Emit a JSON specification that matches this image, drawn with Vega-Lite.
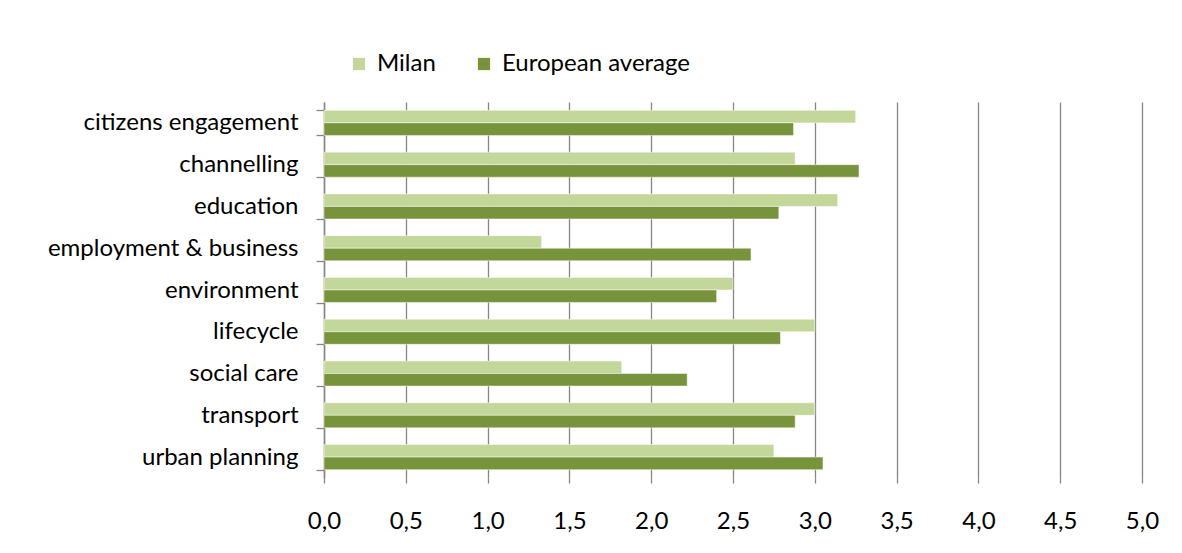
{
  "$schema": "https://vega.github.io/schema/vega-lite/v6.json",
  "width": 818,
  "height": 376,
  "autosize": {"type": "none"},
  "padding": {"left": 324, "top": 102, "right": 40, "bottom": 75},
  "background": "white",
  "data": {
    "values": [
      {"category": "citizens engagement", "series": "Milan", "value": 3.25},
      {"category": "citizens engagement", "series": "European average", "value": 2.87},
      {"category": "channelling", "series": "Milan", "value": 2.88},
      {"category": "channelling", "series": "European average", "value": 3.27},
      {"category": "education", "series": "Milan", "value": 3.14},
      {"category": "education", "series": "European average", "value": 2.78},
      {"category": "employment & business", "series": "Milan", "value": 1.33},
      {"category": "employment & business", "series": "European average", "value": 2.61},
      {"category": "environment", "series": "Milan", "value": 2.5},
      {"category": "environment", "series": "European average", "value": 2.4},
      {"category": "lifecycle", "series": "Milan", "value": 3.0},
      {"category": "lifecycle", "series": "European average", "value": 2.79},
      {"category": "social care", "series": "Milan", "value": 1.82},
      {"category": "social care", "series": "European average", "value": 2.22},
      {"category": "transport", "series": "Milan", "value": 3.0},
      {"category": "transport", "series": "European average", "value": 2.88},
      {"category": "urban planning", "series": "Milan", "value": 2.75},
      {"category": "urban planning", "series": "European average", "value": 3.05}
    ]
  },
  "mark": {"type": "bar", "stroke": "#ffffff", "strokeWidth": 0.6, "strokeOpacity": 0.8},
  "encoding": {
    "y": {
      "field": "category",
      "type": "nominal",
      "sort": null,
      "scale": {"paddingInner": 0.4, "paddingOuter": 0.2},
      "axis": {
        "title": null,
        "tickBand": "extent",
        "ticks": true,
        "tickSize": 8,
        "tickColor": "#868686",
        "tickWidth": 1.3,
        "domainColor": "#868686",
        "domainWidth": 1.5,
        "labelFont": "Lato",
        "labelFontSize": 24,
        "labelColor": "#000000",
        "labelPadding": 18,
        "labelLimit": 400
      }
    },
    "yOffset": {
      "field": "series",
      "type": "nominal",
      "sort": ["Milan", "European average"]
    },
    "x": {
      "field": "value",
      "type": "quantitative",
      "scale": {"domain": [0, 5], "nice": false, "zero": true},
      "axis": {
        "title": null,
        "values": [0, 0.5, 1, 1.5, 2, 2.5, 3, 3.5, 4, 4.5, 5],
        "labelExpr": "replace(format(datum.value, '.1f'), '.', ',')",
        "labelFlush": false,
        "labelOverlap": false,
        "domain": false,
        "grid": true,
        "gridColor": "#868686",
        "gridWidth": 1.3,
        "ticks": true,
        "tickSize": 5,
        "tickColor": "#868686",
        "tickWidth": 1.3,
        "labelFont": "Lato",
        "labelFontSize": 24,
        "labelColor": "#000000",
        "labelPadding": 26
      }
    },
    "color": {
      "field": "series",
      "type": "nominal",
      "sort": ["Milan", "European average"],
      "scale": {"domain": ["Milan", "European average"], "range": ["#C4D79B", "#77933C"]},
      "legend": {
        "title": null,
        "orient": "none",
        "direction": "horizontal",
        "legendX": 23,
        "legendY": -50,
        "symbolType": "square",
        "symbolSize": 150,
        "symbolStrokeWidth": 0,
        "labelFont": "Lato",
        "labelFontSize": 24,
        "labelColor": "#000000",
        "labelOffset": 6,
        "labelLimit": 400,
        "columnPadding": 36
      }
    }
  },
  "config": {
    "view": {"stroke": null}
  }
}
